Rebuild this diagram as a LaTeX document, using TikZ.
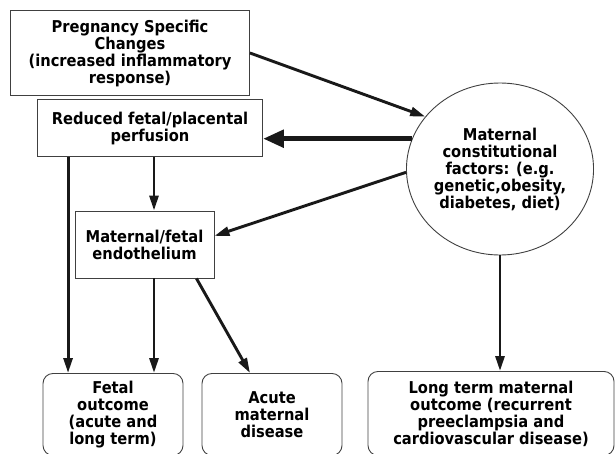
\documentclass[tikz,border=0pt]{standalone}
\usepackage{fontspec}
\setmainfont{DejaVu Sans Condensed}
\usetikzlibrary{arrows.meta,positioning,shapes.geometric}

\begin{document}
\begin{tikzpicture}[
    x=1pt, y=-1pt,
    font=\bfseries\fontsize{16.3}{17}\selectfont,
    >={Triangle[length=15pt,width=9pt]},
    % --- node styles ---
    box/.style   = {rectangle, draw=black!75, line width=0.9pt,
                    align=center, inner sep=0pt},
    rbox/.style  = {box, rounded corners=10pt, anchor=north},
    factor/.style = {ellipse, draw=black!75, line width=0.9pt,
                    align=center, inner sep=0pt},
    arrow/.style  = {->, line width=2.9pt, draw=black!90},
    bigarrow/.style = {->, line width=5.5pt, draw=black!90,
                    >={Triangle[length=21pt,width=17pt]}},
]
\useasboundingbox (0,0) rectangle (615,453);

%============ TOP BOXES ============
\node (preg) [box, minimum width=239pt, minimum height=85pt] at (130,53)
  {Pregnancy Specific\\Changes\\(increased inflammatory\\response)};

\node (reduced) [box, minimum width=225pt, minimum height=57pt] at (150,128)
  {Reduced fetal/placental\\perfusion};

\node (endo) [box, minimum width=139pt, minimum height=67pt] at (144.5,244.5)
  {Maternal/fetal\\endothelium};

%============ MATERNAL FACTORS ============
\node (mat) [factor, minimum width=185pt, minimum height=172pt] at (500,169)
  {Maternal\\constitutional\\factors: (e.g.\\genetic,obesity,\\diabetes, diet)};

%============ OUTCOMES ============
\node (fetal) [rbox, minimum width=140pt, minimum height=82pt] at (113,373)
  {Fetal\\outcome\\(acute and\\long term)};

\node (acute) [rbox, minimum width=140pt, minimum height=82pt] at (272,373)
  {Acute\\maternal\\disease};

\node (longterm) [rbox, minimum width=246pt, minimum height=84pt] at (491,371)
  {Long term maternal\\outcome (recurrent\\preeclampsia and\\cardiovascular disease)};

%============ ARROWS ============
\draw[arrow] (preg.east) -- (mat.145);
\draw[bigarrow] (mat.161) -- (mat.161 -| reduced.east);
\draw[arrow] (mat.182) -- (endo.7);
\draw[arrow] (mat.south) -- (mat.south |- longterm.north);

\draw[arrow] ([xshift=31pt]reduced.south west) -- ([xshift=31pt]reduced.south west |- fetal.north);
\draw[arrow] ([xshift=9.5pt]endo.north |- reduced.south) -- ([xshift=9.5pt]endo.north);
\draw[arrow] ([xshift=9.5pt]endo.south) -- ([xshift=9.5pt]endo.south |- fetal.north);
\draw[arrow] ([xshift=-18pt]endo.south east) -- ([xshift=-22pt]acute.north);

\end{tikzpicture}
\end{document}
